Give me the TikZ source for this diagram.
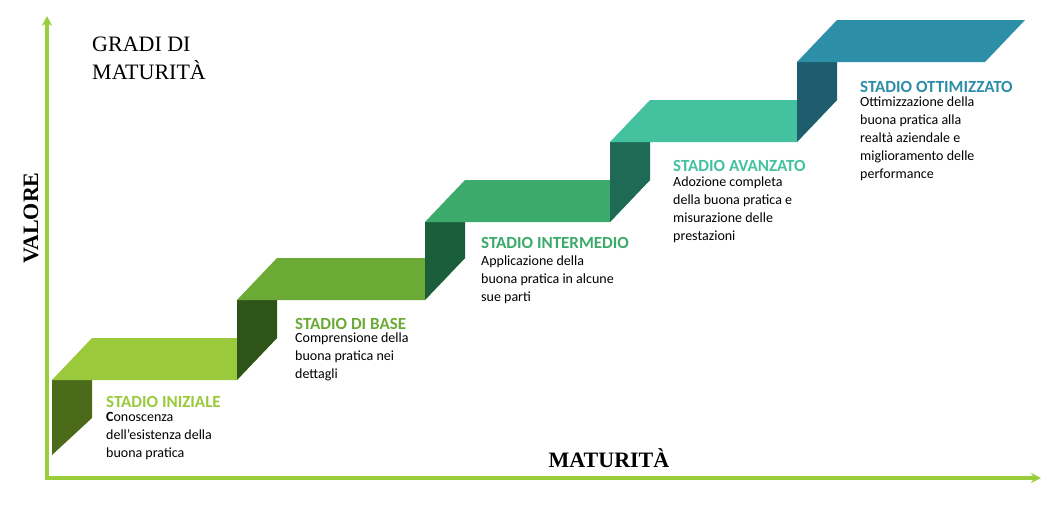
\documentclass[tikz,border=0pt]{standalone}
\usepackage{fontspec}
\usetikzlibrary{arrows.meta}
\setmainfont{Liberation Serif}
\newfontfamily\calfont{Carlito}
\begin{document}
\begin{tikzpicture}[x=1pt,y=-1pt,
  ttl/.style={anchor=west,font=\calfont\bfseries\fontsize{17}{18}\selectfont,inner sep=0},
  body/.style={anchor=north west,align=left,font=\calfont\fontsize{14}{18}\selectfont,inner sep=0},
  axis/.style={line width=3.5pt,draw=axg,-{Stealth[length=10pt,width=10pt]}}]
\definecolor{axg}{HTML}{9ACD3C}
\definecolor{t1}{HTML}{9ACA3C}\definecolor{d1}{HTML}{4A6A1A}
\definecolor{t2}{HTML}{6AAA35}\definecolor{d2}{HTML}{2F5419}
\definecolor{t3}{HTML}{3BAA6A}\definecolor{d3}{HTML}{1B5E3B}
\definecolor{t4}{HTML}{44C2A0}\definecolor{d4}{HTML}{1F6A55}
\definecolor{t5}{HTML}{2D8EA8}\definecolor{d5}{HTML}{1E5C6E}
\useasboundingbox[fill=white] (0,0) rectangle (1041,507);
% axes
\coordinate (o) at (47,478);
\coordinate (ytop) at (47,16);
\coordinate (xend) at (1041,478);
\draw[axis] (o) -- (ytop);
\draw[axis] ([xshift=-1.75pt]o) -- (xend);
% step 1
\fill[d1] (52,380) -- (92,380) -- (92,418) -- (52,455) -- cycle;
\fill[t1] (52,380) -- (237,380) -- (277,338) -- (92,338) -- cycle;
% step 2
\fill[d2] (237,300) -- (277,300) -- (277,338) -- (237,380) -- cycle;
\fill[t2] (237,300) -- (425,300) -- (465,258) -- (277,258) -- cycle;
% step 3
\fill[d3] (425,222) -- (465,222) -- (465,258) -- (425,300) -- cycle;
\fill[t3] (425,222) -- (610,222) -- (650,180) -- (465,180) -- cycle;
% step 4
\fill[d4] (610,142) -- (650,142) -- (650,180) -- (610,222) -- cycle;
\fill[t4] (610,142) -- (797,142) -- (837,100) -- (650,100) -- cycle;
% step 5
\fill[d5] (797,62) -- (837,62) -- (837,100) -- (797,142) -- cycle;
\fill[t5] (797,62) -- (985,62) -- (1025,20) -- (837,20) -- cycle;
% labels
\node[anchor=west,align=left,font=\fontsize{22}{28}\selectfont,inner sep=0] (g) at (92,58) {GRADI DI\\MATURITÀ};
\node[rotate=90,font=\bfseries\fontsize{22}{24}\selectfont,inner sep=0] (v) at (31,218) {VALORE};
\node[font=\bfseries\fontsize{22}{24}\selectfont,inner sep=0] (m) at (609,458) {MATURITÀ};
\node[ttl,text=t1] (s1) at (106,402) {STADIO INIZIALE};
\node[body] (b1) at (106,412) {\textbf{C}onoscenza\\dell’esistenza della\\buona pratica};
\node[ttl,text=t2] (s2) at (295,324) {STADIO DI BASE};
\node[body] (b2) at (295,333) {Comprensione della\\buona pratica nei\\dettagli};
\node[ttl,text=t3] (s3) at (481,243) {STADIO INTERMEDIO};
\node[body] (b3) at (481,256) {Applicazione della\\buona pratica in alcune\\sue parti};
\node[ttl,text=t4] (s4) at (673,166) {STADIO AVANZATO};
\node[body] (b4) at (673,177) {Adozione completa\\della buona pratica e\\misurazione delle\\prestazioni};
\node[ttl,text=t5] (s5) at (860,87) {STADIO OTTIMIZZATO};
\node[body] (b5) at (860,97) {Ottimizzazione della\\buona pratica alla\\realtà aziendale e\\miglioramento delle\\performance};
\end{tikzpicture}
\end{document}
